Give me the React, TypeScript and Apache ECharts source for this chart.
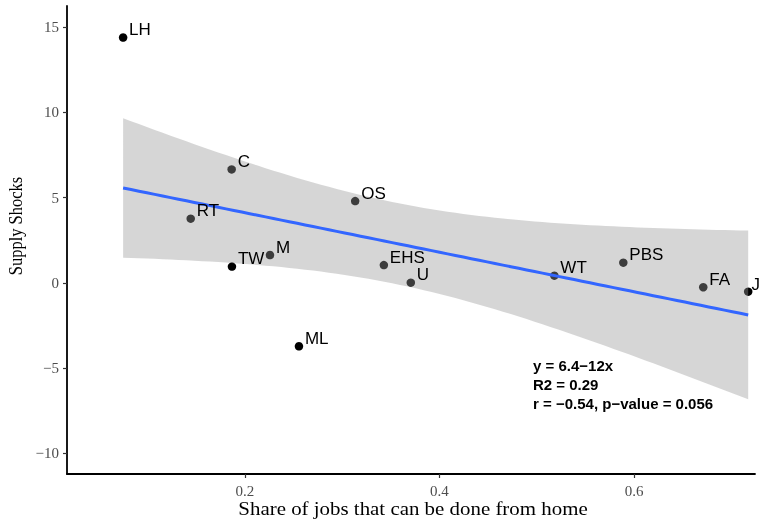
import React, { useEffect, useRef } from "react";
import * as echarts from "echarts";

// Industry codes
const industries = ["LH", "C", "RT", "TW", "M", "OS", "EHS", "U", "ML", "WT", "PBS", "FA", "J"];
// Share of jobs that can be done from home
const shareHome = [0.0747, 0.1863, 0.1442, 0.1866, 0.2257, 0.3133, 0.3428, 0.3705, 0.2555, 0.5181, 0.589, 0.6712, 0.7174];
// Supply shocks
const supplyShocks = [14.38, 6.65, 3.76, 0.95, 1.63, 4.79, 1.04, 0.01, -3.72, 0.42, 1.18, -0.26, -0.52];

const xTicks = [0.2, 0.4, 0.6];
const yTicks = [-10, -5, 0, 5, 10, 15];
const statLines = ["y = 6.4\u221212x", "R2 = 0.29", "r = \u22120.54, p\u2212value = 0.056"];

const T_975_DF11 = 2.200985; // t quantile for 95% CI, df = n - 2 = 11

function fitModel() {
  const n = shareHome.length;
  const mx = shareHome.reduce((a, b) => a + b, 0) / n;
  const my = supplyShocks.reduce((a, b) => a + b, 0) / n;
  let sxx = 0, sxy = 0;
  for (let i = 0; i < n; i++) {
    sxx += (shareHome[i] - mx) ** 2;
    sxy += (shareHome[i] - mx) * (supplyShocks[i] - my);
  }
  const slope = sxy / sxx;
  const intercept = my - slope * mx;
  let sse = 0;
  for (let i = 0; i < n; i++) {
    const r = supplyShocks[i] - (intercept + slope * shareHome[i]);
    sse += r * r;
  }
  const s = Math.sqrt(sse / (n - 2));
  const x0 = Math.min(...shareHome), x1 = Math.max(...shareHome);
  const steps = 80;
  const fit: number[][] = [], band: number[][] = [];
  for (let k = 0; k < steps; k++) {
    const x = x0 + ((x1 - x0) * k) / (steps - 1);
    const yhat = intercept + slope * x;
    const se = s * Math.sqrt(1 / n + (x - mx) ** 2 / sxx);
    const h = T_975_DF11 * se;
    fit.push([x, yhat]);
    band.push([x, yhat - h, yhat + h]);
  }
  return { fit, band };
}

export default function App() {
  const ref = useRef<HTMLDivElement>(null);
  useEffect(() => {
    if (!ref.current) return;
    const chart = echarts.init(ref.current, null, { renderer: "svg" });
    const { fit, band } = fitModel();
    const pts = shareHome.map((x, i) => [x, supplyShocks[i], industries[i]]);
    const serif = "Liberation Serif, Times New Roman, serif";
    const sans = "Liberation Sans, Arial, sans-serif";
    const W = 761;
    chart.setOption({
      animation: false,
      grid: { left: 67, right: 6, top: 6, bottom: 48 },
      xAxis: {
        type: "value",
        min: 0.017,
        max: 0.7244,
        axisLine: { onZero: false, lineStyle: { color: "#000", width: 1.8 } },
        axisTick: { show: true, length: 4, customValues: xTicks, lineStyle: { color: "#333", width: 1.2 } },
        axisLabel: {
          customValues: xTicks,
          formatter: (v: number) => v.toFixed(1),
          color: "#4d4d4d",
          fontFamily: serif,
          fontSize: 15,
          margin: 9,
        },
        splitLine: { show: false },
      },
      yAxis: {
        type: "value",
        min: -11.21,
        max: 16.23,
        axisLine: { show: true, onZero: false, lineStyle: { color: "#000", width: 1.8 } },
        axisTick: { show: true, length: 4, customValues: yTicks, lineStyle: { color: "#333", width: 1.2 } },
        axisLabel: {
          customValues: yTicks,
          formatter: (v: number) => String(v).replace("-", "\u2212"),
          color: "#4d4d4d",
          fontFamily: serif,
          fontSize: 15,
          margin: 8,
        },
        splitLine: { show: false },
      },
      series: [
        {
          type: "scatter",
          data: pts,
          symbolSize: 8.5,
          itemStyle: { color: "#000", opacity: 1 },
          z: 1,
          silent: true,
        },
        {
          type: "custom",
          data: band,
          encode: { x: 0, y: [1, 2] },
          silent: true,
          z: 2,
          renderItem: (params: any, api: any) => {
            if (params.dataIndex !== 0) return null;
            const upper = band.map((d) => api.coord([d[0], d[2]]));
            const lowerPts = band.slice().reverse().map((d) => api.coord([d[0], d[1]]));
            return {
              type: "polygon",
              shape: { points: upper.concat(lowerPts) },
              style: { fill: "rgba(153,153,153,0.4)", stroke: "none" },
            };
          },
        },
        {
          type: "line",
          data: fit,
          symbol: "none",
          lineStyle: { color: "#3366FF", width: 3 },
          z: 3,
          silent: true,
        },
        {
          type: "scatter",
          data: pts,
          symbolSize: 8,
          itemStyle: { color: "rgba(0,0,0,0)" },
          label: {
            show: true,
            formatter: (p: any) => p.data[2],
            position: "right",
            distance: 2,
            color: "#000",
            opacity: 1,
            fontFamily: sans,
            fontSize: 17,
          },
          labelLayout: (params: any) => {
            const r = params.labelRect;
            if (r && r.x + r.width > W - 1) {
              return { dx: W - 1 - (r.x + r.width), dy: -7 };
            }
            return { dy: -8 };
          },
          z: 4,
        },
      ],
      graphic: [
        {
          type: "text",
          x: 413,
          y: 508,
          scaleX: 1.1,
          style: { text: "Share of jobs that can be done from home", fontFamily: serif, fontSize: 19, fill: "#000", textAlign: "center", textVerticalAlign: "middle" },
        },
        {
          type: "text",
          x: 16,
          y: 226,
          rotation: Math.PI / 2,
          scaleY: 1.15,
          style: { text: "Supply Shocks", fontFamily: serif, fontSize: 16.5, fill: "#000", textAlign: "center", textVerticalAlign: "middle" },
        },
        ...statLines.map((t, i) => ({
          type: "text",
          x: 533,
          y: 365 + i * 19.3,
          style: { text: t, fontFamily: sans, fontWeight: "bold", fontSize: 15, fill: "#000", textAlign: "left", textVerticalAlign: "middle" },
        })),
      ],
    });
    return () => chart.dispose();
  }, []);
  return <div ref={ref} style={{ position: "fixed", left: 0, top: 0, width: 761, height: 522 }} />;
}
